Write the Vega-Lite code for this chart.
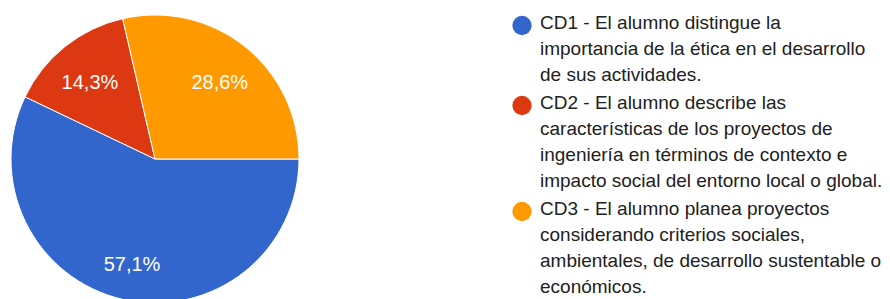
{
  "$schema": "https://vega.github.io/schema/vega-lite/v6.json",
  "width": 310,
  "height": 318,
  "padding": 0,
  "autosize": {"type": "pad"},
  "background": "white",
  "config": {
    "view": {"stroke": null},
    "style": {"guide-label": {"lineHeight": 26, "dy": 3}},
    "locale": {"number": {"decimal": ",", "thousands": ".", "grouping": [3], "currency": ["", " €"]}}
  },
  "data": {
    "values": [
      {"criterio": "CD1 - El alumno distingue la\nimportancia de la ética en el desarrollo\nde sus actividades.", "proporcion": 0.571},
      {"criterio": "CD2 - El alumno describe las\ncaracterísticas de los proyectos de\ningeniería en términos de contexto e\nimpacto social del entorno local o global.", "proporcion": 0.143},
      {"criterio": "CD3 - El alumno planea proyectos\nconsiderando criterios sociales,\nambientales, de desarrollo sustentable o\neconómicos.", "proporcion": 0.286}
    ]
  },
  "encoding": {
    "theta": {"field": "proporcion", "type": "quantitative", "stack": true, "scale": {"range": [1.5708, 7.854]}},
    "order": {"field": "criterio", "type": "nominal"}
  },
  "layer": [
    {
      "mark": {"type": "arc", "outerRadius": 144, "stroke": "white", "strokeWidth": 1},
      "encoding": {
        "color": {
          "field": "criterio",
          "type": "nominal",
          "scale": {"range": ["#3366cc", "#dc3912", "#ff9900"]},
          "legend": {
            "title": null,
            "orient": "none",
            "legendX": 512,
            "legendY": 15.5,
            "symbolType": "circle",
            "symbolSize": 372,
            "symbolStrokeWidth": 0,
            "labelFont": "Liberation Sans",
            "labelFontSize": 19,
            "labelColor": "#212121",
            "labelLimit": 400,
            "labelOffset": 8,
            "labelBaseline": "alphabetic",
            "labelExpr": "split(datum.label, '\\n')",
            "rowPadding": 9,
            "padding": 0
          }
        }
      }
    },
    {
      "mark": {"type": "text", "radius": 104, "fontSize": 20, "font": "Liberation Sans", "fill": "white", "dy": 5},
      "encoding": {
        "text": {"field": "proporcion", "type": "quantitative", "format": ".1%"},
        "detail": {"field": "criterio", "type": "nominal"}
      }
    }
  ]
}
